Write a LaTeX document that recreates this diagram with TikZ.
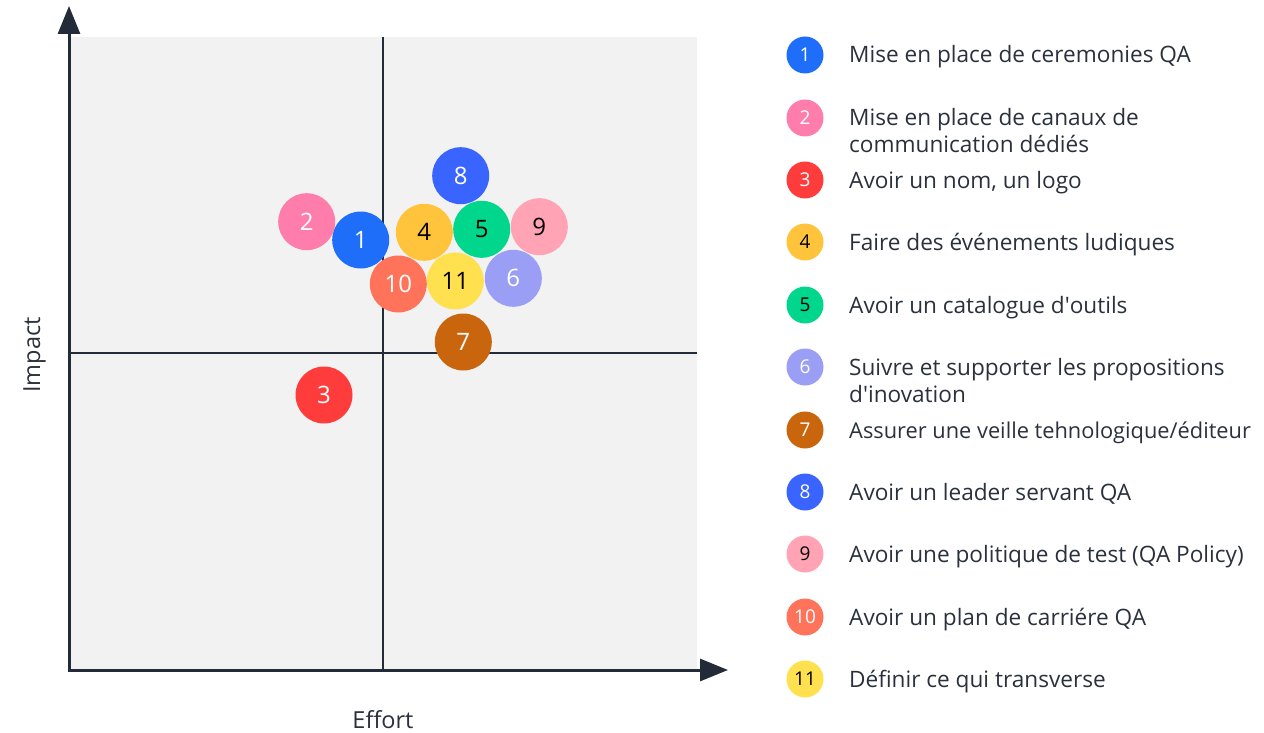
\documentclass[tikz,border=0pt]{standalone}
\usepackage{fontspec}
\setmainfont{Open Sans}
\usetikzlibrary{arrows.meta}
\definecolor{axis}{HTML}{232A38}
\definecolor{bg}{HTML}{F2F2F2}
\definecolor{txt}{HTML}{2A303C}
\definecolor{c1}{HTML}{1E6EFA}
\definecolor{c2}{HTML}{FF7DAA}
\definecolor{c3}{HTML}{FF3C3C}
\definecolor{c4}{HTML}{FFC43C}
\definecolor{c5}{HTML}{00D68C}
\definecolor{c6}{HTML}{9A9EF5}
\definecolor{c7}{HTML}{C9660D}
\definecolor{c8}{HTML}{3A64FF}
\definecolor{c9}{HTML}{FFA3B5}
\definecolor{c10}{HTML}{FF735A}
\definecolor{c11}{HTML}{FFE150}
\tikzset{
  bub/.style={circle, minimum size=57pt, inner sep=0pt, font=\fontsize{24}{24}\selectfont},
  lbub/.style={circle, minimum size=37pt, inner sep=0pt, font=\fontsize{19}{19}\selectfont},
  ltext/.style={anchor=base west, inner sep=0pt, text=txt, font=\fontsize{22.6}{27}\selectfont, align=left},
  axisline/.style={draw=axis, line width=3pt, -{Triangle[length=28pt,width=22pt]}},
  quad/.style={draw=axis, line width=2pt},
  alabel/.style={text=txt, font=\fontsize{23.5}{23.5}\selectfont, inner sep=0pt}
}
\begin{document}
\begin{tikzpicture}[x=1pt,y=-1pt]
\useasboundingbox (0,0) rectangle (1264,733);
\fill[bg] (70,37) rectangle (697,670);
\coordinate (qt) at (383,37);
\coordinate (qb) at (383,670);
\coordinate (ql) at (70,353);
\coordinate (qr) at (697,353);
\draw[quad] (qt) -- (qb);
\draw[quad] (ql) -- (qr);
\coordinate (o) at (69,670);
\coordinate (ytip) at (69,6);
\coordinate (xtip) at (728,670);
\draw[axisline] ([yshift=1.5pt]o) -- (ytip);
\draw[axisline] ([xshift=-1.5pt]o) -- (xtip);
\node[alabel, rotate=90, anchor=base] (ylab) at (40,355) {Impact};
\node[alabel, anchor=base] (xlab) at (383,728) {Effort};
% bubbles
\node[bub, fill=c2, text=white] (b2) at (306.7,221.7) {2};
\node[bub, fill=c1, text=white] (b1) at (360.7,240) {1};
\node[bub, fill=c3, text=white] (b3) at (324,395) {3};
\node[bub, fill=c4, text=black] (b4) at (424.3,232.3) {4};
\node[bub, fill=c5, text=black] (b5) at (481.7,229.3) {5};
\node[bub, fill=c6, text=white] (b6) at (513.3,278.3) {6};
\node[bub, fill=c7, text=white] (b7) at (463.3,342) {7};
\node[bub, fill=c8, text=white] (b8) at (460.7,175.7) {8};
\node[bub, fill=c9, text=black] (b9) at (539.3,226.7) {9};
\node[bub, fill=c10, text=white] (b10) at (398.3,284) {10};
\node[bub, fill=c11, text=black] (b11) at (455.3,281) {11};
% legend
\node[lbub, fill=c1, text=white] (l1) at (805,55) {1};
\node[lbub, fill=c2, text=white] (l2) at (805,118) {2};
\node[lbub, fill=c3, text=white] (l3) at (805,180) {3};
\node[lbub, fill=c4, text=black] (l4) at (805,242) {4};
\node[lbub, fill=c5, text=black] (l5) at (805,305) {5};
\node[lbub, fill=c6, text=white] (l6) at (805,367) {6};
\node[lbub, fill=c7, text=white] (l7) at (805,430) {7};
\node[lbub, fill=c8, text=white] (l8) at (805,492) {8};
\node[lbub, fill=c9, text=black] (l9) at (805,554) {9};
\node[lbub, fill=c10, text=white] (l10) at (805,617) {10};
\node[lbub, fill=c11, text=black] (l11) at (805,679) {11};
\node[ltext] (t1) at (849,63) {Mise en place de ceremonies QA};
\node[ltext] (t2) at (849,153) {Mise en place de canaux de\\communication dédiés};
\node[ltext] (t3) at (849,188) {Avoir un nom, un logo};
\node[ltext] (t4) at (849,250) {Faire des événements ludiques};
\node[ltext] (t5) at (849,313) {Avoir un catalogue d\textquotesingle outils};
\node[ltext] (t6) at (849,402) {Suivre et supporter les propositions\\d\textquotesingle inovation};
\node[ltext, font=\fontsize{21.8}{27}\selectfont] (t7) at (849,438) {Assurer une veille tehnologique/éditeur};
\node[ltext] (t8) at (849,500) {Avoir un leader servant QA};
\node[ltext] (t9) at (849,562) {Avoir une politique de test (QA Policy)};
\node[ltext] (t10) at (849,625) {Avoir un plan de carriére QA};
\node[ltext] (t11) at (849,687) {Définir ce qui transverse};
\end{tikzpicture}
\end{document}
